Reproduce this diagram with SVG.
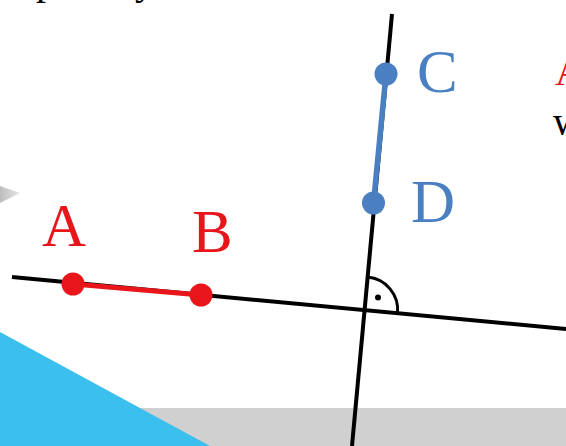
<svg xmlns="http://www.w3.org/2000/svg" width="566" height="446" viewBox="0 0 566 446">
<defs>
<style>
.lbl{font-family:"Liberation Serif","Times New Roman",serif;font-size:61px}
.txt{font-family:"Liberation Serif","Times New Roman",serif;font-size:40px}
.red{fill:#e8151b}
.blue{fill:#4a80c2}
.line{stroke:#000;stroke-width:4;fill:none;stroke-linecap:butt}
</style>
<linearGradient id="wedge" x1="0" y1="0" x2="1" y2="0">
<stop offset="0" stop-color="#bdbdbd"/>
<stop offset="1" stop-color="#e6e6e6"/>
</linearGradient>
</defs>
<rect width="566" height="446" fill="#fff"/>
<g id="background">
<rect x="130" y="408" width="436" height="38" fill="#d0d0d0"/>
<polygon points="0,332 210,446 0,446" fill="#3bbfee"/>
<polygon points="0,186 20,193 0,203" fill="url(#wedge)"/>
</g>
<g id="texts">
<text class="txt" y="-6" fill="#000"><tspan x="36">p</tspan><tspan x="135">y</tspan></text>
<text class="txt red" x="555" y="85">A</text>
<text class="txt" x="553" y="135" fill="#000">w</text>
</g>
<g id="connectors">
<line id="line-h" class="line" x1="12" y1="277" x2="566" y2="329"/>
<line id="line-v" class="line" x1="392" y1="14" x2="352" y2="446"/>
<path id="right-angle" d="M367.6,277.1 A33,33 0 0 1 397.5,313.1" stroke="#000" stroke-width="3" fill="none"/>
<circle cx="378" cy="297.5" r="3" fill="#000"/>
<line id="seg-AB" x1="73" y1="284" x2="201" y2="295" stroke="#e8151b" stroke-width="5"/>
<line id="seg-CD" x1="386" y1="74" x2="373.5" y2="203" stroke="#4a80c2" stroke-width="5.5"/>
</g>
<g id="node-A"><circle cx="73" cy="284" r="11.5" class="red"/><text class="lbl red" x="42" y="246">A</text></g>
<g id="node-B"><circle cx="201" cy="295" r="11.5" class="red"/><text class="lbl red" x="192" y="252">B</text></g>
<g id="node-C"><circle cx="386" cy="74" r="11.5" class="blue"/><text class="lbl blue" x="417" y="92">C</text></g>
<g id="node-D"><circle cx="373.5" cy="203" r="11.5" class="blue"/><text class="lbl blue" x="411" y="222">D</text></g>
</svg>
